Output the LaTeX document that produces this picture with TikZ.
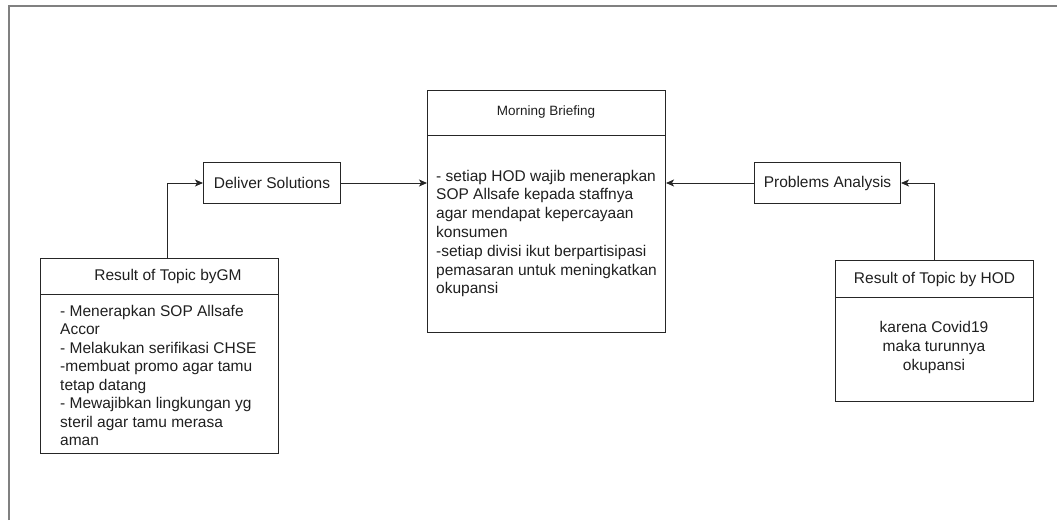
\documentclass[tikz,border=0pt]{standalone}
\usepackage{fontspec}
\setmainfont{Liberation Sans}
\usetikzlibrary{arrows.meta}
\begin{document}
\begin{tikzpicture}[x=1pt,y=-1pt,
  box/.style={draw=black!85,line width=1pt,inner sep=0pt,anchor=north west},
  sep/.style={draw=black!85,line width=1pt},
  txt/.style={inner sep=0pt,text=black!88,font=\fontsize{15.5}{18.8}\selectfont},
  head/.style={inner sep=0pt,text=black!88,font=\fontsize{13.5}{16}\selectfont},
  arr/.style={draw=black!85,line width=1pt,-{Stealth[length=8pt,width=7pt,inset=2pt]}},
  frame/.style={draw=black!50,line width=2pt}]
\useasboundingbox (0,0) rectangle (1057,520);
\draw[frame] (9,520) -- (9,5.5) -- (1057,5.5);

% Morning Briefing
\node[box,minimum width=238pt,minimum height=242pt] (mb) at (427,90) {};
\draw[sep] (mb.west |- 0,135) -- (mb.east |- 0,135);
\node[head] (mbh) at (546,112) {Morning Briefing};
\node[txt,align=left,anchor=west] (mbt) at (436,233.5) {- setiap HOD wajib menerapkan\\SOP Allsafe kepada staffnya\\agar mendapat kepercayaan\\konsumen\\-setiap divisi ikut berpartisipasi\\pemasaran untuk meningkatkan\\okupansi};

% Deliver Solutions
\node[box,minimum width=137pt,minimum height=41pt] (ds) at (203,162) {};
\node[txt] (dst) at (ds.center) {Deliver Solutions};

% Problems Analysis
\node[box,minimum width=146pt,minimum height=41pt] (pa) at (754,162) {};
\node[txt] (pat) at (pa.center) {Problems Analysis};

% Result GM
\node[box,minimum width=238pt,minimum height=195pt] (gm) at (40,258) {};
\draw[sep] (gm.west |- 0,294) -- (gm.east |- 0,294);
\node[txt] (gmh) at (168,276) {Result of Topic byGM};
\node[txt,align=left,anchor=west,font=\fontsize{15.5}{18.43}\selectfont] (gmt) at (60,375.5) {- Menerapkan SOP Allsafe\\Accor\\- Melakukan serifikasi CHSE\\-membuat promo agar tamu\\tetap datang\\- Mewajibkan lingkungan yg\\steril agar tamu merasa\\aman};

% Result HOD
\node[box,minimum width=198pt,minimum height=141pt] (hod) at (835,260) {};
\draw[sep] (hod.west |- 0,297) -- (hod.east |- 0,297);
\node[txt] (hodh) at (934.5,279) {Result of Topic by HOD};
\node[txt,align=center,font=\fontsize{15.5}{19}\selectfont] (hodt) at (934,347) {karena Covid19\\maka turunnya\\okupansi};

% connectors
\draw[arr] (ds.east) -- (ds.east -| mb.west);
\draw[arr] (pa.west) -- (pa.west -| mb.east);
\draw[arr] ([xshift=8pt]gm.north) |- (ds.west);
\draw[arr] (hod.north) |- (pa.east);
\end{tikzpicture}
\end{document}
